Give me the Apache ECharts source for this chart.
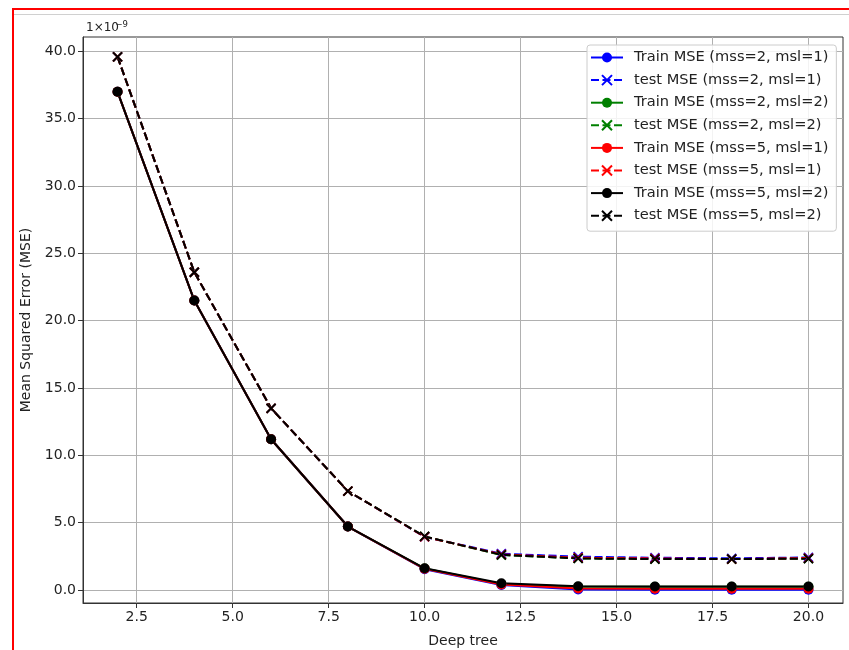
<!DOCTYPE html>
<html>
<head>
<meta charset="utf-8">
<script src="https://cdn.jsdelivr.net/npm/echarts@6/dist/echarts.min.js"></script>
<style>
  html, body { margin: 0; padding: 0; background: #fff; }
  #chart { width: 849px; height: 650px; }
</style>
</head>
<body>
<div id="chart"></div>
<script>
// Tree depth on the x axis
const depths = [2, 4, 6, 8, 10, 12, 14, 16, 18, 20];

// MSE values, in units of 1e-9
const trainMss2Msl1 = [37.0, 21.5, 11.2, 4.72, 1.55, 0.38, 0.05, 0.03, 0.03, 0.03];
const testMss2Msl1  = [39.6, 23.6, 13.5, 7.35, 3.95, 2.70, 2.48, 2.40, 2.36, 2.42];
const trainMss2Msl2 = [37.0, 21.5, 11.2, 4.72, 1.60, 0.45, 0.25, 0.25, 0.25, 0.25];
const testMss2Msl2  = [39.6, 23.6, 13.5, 7.35, 3.98, 2.60, 2.35, 2.30, 2.30, 2.33];
const trainMss5Msl1 = [37.0, 21.5, 11.2, 4.72, 1.58, 0.42, 0.12, 0.10, 0.10, 0.10];
const testMss5Msl1  = [39.6, 23.6, 13.5, 7.35, 3.96, 2.65, 2.40, 2.35, 2.30, 2.38];
const trainMss5Msl2 = [37.0, 21.5, 11.2, 4.72, 1.62, 0.50, 0.28, 0.27, 0.27, 0.27];
const testMss5Msl2  = [39.6, 23.6, 13.5, 7.35, 3.98, 2.62, 2.35, 2.30, 2.30, 2.33];

// Tick positions
const xTicks = [2.5, 5.0, 7.5, 10.0, 12.5, 15.0, 17.5, 20.0];
const yTicks = [0, 5, 10, 15, 20, 25, 30, 35, 40];

const FONT = 'DejaVu Sans';
const CROSS = 'path://M0,0L10,10M10,0L0,10';

function pairs(ys) {
  return depths.map((x, i) => [x, ys[i]]);
}

function trainSeries(name, color, ys) {
  return {
    name, type: 'line', data: pairs(ys),
    symbol: 'circle', symbolSize: 10, showAllSymbol: true,
    lineStyle: { color, width: 2, type: 'solid' },
    itemStyle: { color, borderWidth: 0 },
    emphasis: { disabled: true }, animation: false
  };
}

function testSeries(name, color, ys) {
  return {
    name, type: 'line', data: pairs(ys),
    symbol: CROSS, symbolSize: 9, showAllSymbol: true,
    lineStyle: { color, width: 2, type: [8, 3.5] },
    itemStyle: { color: 'none', borderColor: color, borderWidth: 1.8 },
    emphasis: { disabled: true }, animation: false
  };
}

const series = [
  trainSeries('Train MSE (mss=2, msl=1)', '#0000ff', trainMss2Msl1),
  testSeries('test MSE (mss=2, msl=1)', '#0000ff', testMss2Msl1),
  trainSeries('Train MSE (mss=2, msl=2)', '#008000', trainMss2Msl2),
  testSeries('test MSE (mss=2, msl=2)', '#008000', testMss2Msl2),
  trainSeries('Train MSE (mss=5, msl=1)', '#ff0000', trainMss5Msl1),
  testSeries('test MSE (mss=5, msl=1)', '#ff0000', testMss5Msl1),
  trainSeries('Train MSE (mss=5, msl=2)', '#000000', trainMss5Msl2),
  testSeries('test MSE (mss=5, msl=2)', '#000000', testMss5Msl2)
];

const chart = echarts.init(document.getElementById('chart'), null, { renderer: 'canvas' });

chart.setOption({
  animation: false,
  backgroundColor: '#ffffff',
  textStyle: { fontFamily: FONT },
  grid: {
    left: 83, top: 37, right: 6, bottom: 47,
    outerBoundsMode: 'none', containLabel: false,
    show: true, borderColor: '#333', borderWidth: 1, backgroundColor: 'transparent'
  },
  xAxis: {
    type: 'value', min: 1.1, max: 20.9,
    name: 'Deep tree', nameLocation: 'middle', nameGap: 31,
    nameTextStyle: { fontFamily: FONT, fontSize: 14, color: '#222' },
    axisLine: { show: true, onZero: false, lineStyle: { color: '#333', width: 1 } },
    axisTick: { show: true, length: 5, inside: false, customValues: xTicks, lineStyle: { color: '#333' } },
    axisLabel: { customValues: xTicks, fontFamily: FONT, fontSize: 14, color: '#222', margin: 7,
                 formatter: v => v.toFixed(1) },
    splitLine: { show: true, lineStyle: { color: '#b0b0b0', width: 1 } }
  },
  yAxis: {
    type: 'value', min: -0.96, max: 41.07,
    name: 'Mean Squared Error (MSE)', nameLocation: 'middle', nameGap: 50,
    nameTextStyle: { fontFamily: FONT, fontSize: 14, color: '#222' },
    axisLine: { show: true, onZero: false, lineStyle: { color: '#333', width: 1 } },
    axisTick: { show: true, length: 5, inside: false, customValues: yTicks, lineStyle: { color: '#333' } },
    axisLabel: { customValues: yTicks, fontFamily: FONT, fontSize: 14, color: '#222', margin: 7,
                 formatter: v => v.toFixed(1) },
    splitLine: { show: true, lineStyle: { color: '#b0b0b0', width: 1 } }
  },
  legend: {
    orient: 'vertical', left: 587, top: 45,
    padding: [5, 8, 8, 3],
    itemGap: 7.6, itemWidth: 32, itemHeight: 12.5,
    backgroundColor: 'rgba(255,255,255,0.85)',
    borderColor: '#cccccc', borderWidth: 1, borderRadius: 3,
    textStyle: { fontFamily: FONT, fontSize: 14.6, color: '#222', padding: [0, 0, 0, 6] },
    selectedMode: false,
    data: series.map(s => s.name)
  },
  graphic: [
    { type: 'rect', shape: { x: 12, y: 8, width: 837, height: 2 }, style: { fill: '#ff0000' }, silent: true },
    { type: 'rect', shape: { x: 12, y: 8, width: 2, height: 642 }, style: { fill: '#ff0000' }, silent: true },
    { type: 'rect', shape: { x: 14, y: 14, width: 835, height: 1 }, style: { fill: '#d0d0d0' }, silent: true },
    { type: 'text', left: 86, top: 22, style: { text: '1×10', font: '12px "DejaVu Sans"', fill: '#222' }, silent: true },
    { type: 'text', left: 115.5, top: 20, style: { text: '−9', font: '8.5px "DejaVu Sans"', fill: '#222' }, silent: true }
  ],
  series
});
</script>
</body>
</html>
